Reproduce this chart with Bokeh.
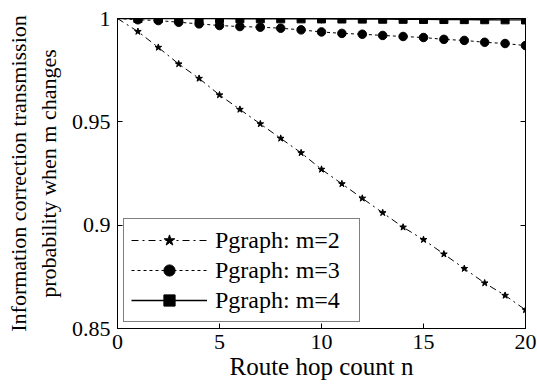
from bokeh.plotting import figure
from bokeh.models import LinearAxis, FixedTicker, Range1d, Legend, LegendItem
from bokeh.embed import file_html
from bokeh.resources import INLINE

# Data
n_hops = list(range(0, 21))
m2_vals = [1.0, 0.9937, 0.986, 0.978, 0.971, 0.963, 0.956, 0.949, 0.942, 0.935, 0.927,
           0.920, 0.913, 0.906, 0.899, 0.893, 0.886, 0.879, 0.872, 0.866, 0.859]
m3_vals = [1.0, 0.9994, 0.999, 0.9982, 0.9974, 0.9966, 0.9961, 0.9958, 0.9953, 0.9945, 0.9935,
           0.9928, 0.9924, 0.9918, 0.9913, 0.9908, 0.9899, 0.9894, 0.9885, 0.9879, 0.9869]
m4_vals = [1.0, 0.99998, 0.99996, 0.99994, 0.99992, 0.9999, 0.99988, 0.99986, 0.99984, 0.99982, 0.9998,
           0.99975, 0.9997, 0.99965, 0.9996, 0.99955, 0.9995, 0.99945, 0.9994, 0.99935, 0.9993]
x_ticks = [0, 5, 10, 15, 20]
y_ticks = [0.85, 0.9, 0.95, 1.0]
y_tick_labels = {0.85: "0.85", 0.9: "0.9", 0.95: "0.95", 1.0: "1"}
series_labels = ["Pgraph: m=2", "Pgraph: m=3", "Pgraph: m=4"]
x_title = "Route hop count n"
y_title = "Information correction transmission\nprobability when m changes"

FONT = "Liberation Serif"
TICK_FS = "22px"
XTITLE_FS = "25px"
YTITLE_FS = "22px"
LEG_FS = "24px"

p = figure(output_backend="svg", toolbar_location=None,
           frame_width=408, frame_height=310,
           min_border_left=117, min_border_right=12, min_border_top=18, min_border_bottom=60,
           x_range=Range1d(0, 20), y_range=Range1d(0.85, 1.0),
           background_fill_color="white", border_fill_color="white")
p.grid.visible = False
p.outline_line_color = "black"
p.outline_line_width = 1

# lines + markers
r2l = p.line(n_hops, m2_vals, line_color="black", line_width=1, line_dash="7 4 2 4")
r2m = p.scatter(n_hops[1:], m2_vals[1:], marker="star", size=7, fill_color="black", line_color="black")
r3l = p.line(n_hops, m3_vals, line_color="black", line_width=1, line_dash="3 3")
r3m = p.scatter(n_hops[1:], m3_vals[1:], marker="circle", size=8.5, fill_color="black", line_color="black")
r4l = p.line(n_hops, m4_vals, line_color="black", line_width=1.3)
r4m = p.scatter(n_hops[1:], m4_vals[1:], marker="square", size=8, fill_color="black", line_color="black")

def style_axis(ax):
    ax.major_tick_in = 5
    ax.major_tick_out = 0
    ax.minor_tick_line_color = None
    ax.axis_line_color = "black"
    ax.major_tick_line_color = "black"
    ax.major_label_text_font = FONT
    ax.major_label_text_font_size = TICK_FS
    ax.major_label_text_color = "black"
    ax.axis_label_text_font = FONT
    ax.axis_label_text_font_style = "normal"
    ax.axis_label_text_color = "black"

xa = p.xaxis[0]
style_axis(xa)
xa.ticker = FixedTicker(ticks=x_ticks)
xa.axis_label = x_title
xa.axis_label_text_font_size = XTITLE_FS
xa.major_label_standoff = 6
xa.axis_label_standoff = 1

ya = p.yaxis[0]
style_axis(ya)
ya.ticker = FixedTicker(ticks=y_ticks)
ya.major_label_overrides = y_tick_labels
ya.axis_label = y_title
ya.axis_label_text_font_size = YTITLE_FS
ya.major_label_standoff = 7
ya.axis_label_standoff = 8

top = LinearAxis(ticker=FixedTicker(ticks=x_ticks))
style_axis(top)
top.major_label_overrides = {t: "" for t in x_ticks}
top.major_label_text_font_size = "1px"
top.major_label_standoff = 0
p.add_layout(top, "above")
right = LinearAxis(ticker=FixedTicker(ticks=y_ticks))
style_axis(right)
right.major_label_overrides = {t: "" for t in y_ticks}
right.major_label_text_font_size = "1px"
right.major_label_standoff = 0
p.add_layout(right, "right")

legend = Legend(items=[
    LegendItem(label=series_labels[0], renderers=[r2l, r2m]),
    LegendItem(label=series_labels[1], renderers=[r3l, r3m]),
    LegendItem(label=series_labels[2], renderers=[r4l, r4m]),
], location=(6, 6))
legend.border_line_color = "black"
legend.border_line_width = 1
legend.background_fill_color = "white"
legend.background_fill_alpha = 1
legend.label_text_font = FONT
legend.label_text_font_size = LEG_FS
legend.label_text_color = "black"
legend.glyph_width = 76
legend.glyph_height = 28
legend.label_height = 28
legend.label_width = 137
legend.label_standoff = 8
legend.padding = 7
legend.spacing = 2
legend.margin = 0
p.add_layout(legend, "center")

open("out.html", "w").write(file_html(p, INLINE))
